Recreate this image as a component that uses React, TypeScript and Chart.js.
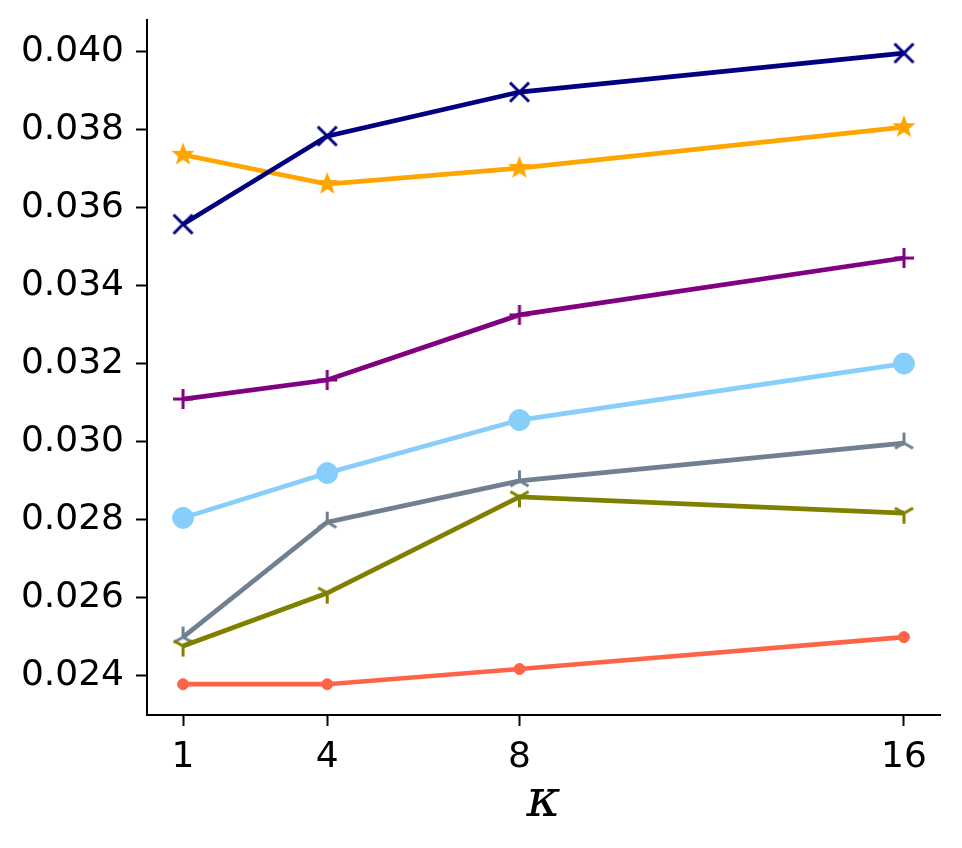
import React, { useEffect, useRef } from "react";
import { Chart, registerables } from "chart.js";

Chart.register(...registerables);

const kValues = [1, 4, 8, 16];
const xTicks = [1, 4, 8, 16];
const yTicks = [0.024, 0.026, 0.028, 0.030, 0.032, 0.034, 0.036, 0.038, 0.040];

const navySeries = [0.03558, 0.03784, 0.03897, 0.03997];
const orangeSeries = [0.03736, 0.03661, 0.03702, 0.03807];
const purpleSeries = [0.03109, 0.03158, 0.03325, 0.03471];
const skySeries = [0.02804, 0.02919, 0.03055, 0.03200];
const oliveSeries = [0.02475, 0.02611, 0.02858, 0.02816];
const graySeries = [0.02498, 0.02793, 0.02899, 0.02996];
const tomatoSeries = [0.02377, 0.02377, 0.02416, 0.02498];

type Kind = "x" | "plus" | "star" | "triUp" | "triDown";

function makeMarker(kind: Kind, color: string, r: number, lw: number): HTMLCanvasElement {
  const size = Math.ceil(2 * r + 2 * lw + 2);
  const c = document.createElement("canvas");
  c.width = size;
  c.height = size;
  const ctx = c.getContext("2d")!;
  const cx = size / 2;
  const cy = size / 2;
  ctx.strokeStyle = color;
  ctx.fillStyle = color;
  ctx.lineWidth = lw;
  ctx.lineCap = "butt";
  ctx.beginPath();
  if (kind === "x") {
    const d = r;
    ctx.moveTo(cx - d, cy - d);
    ctx.lineTo(cx + d, cy + d);
    ctx.moveTo(cx - d, cy + d);
    ctx.lineTo(cx + d, cy - d);
    ctx.stroke();
  } else if (kind === "plus") {
    ctx.moveTo(cx - r, cy);
    ctx.lineTo(cx + r, cy);
    ctx.moveTo(cx, cy - r);
    ctx.lineTo(cx, cy + r);
    ctx.stroke();
  } else if (kind === "star") {
    const inner = r * 0.42;
    for (let i = 0; i < 10; i++) {
      const rr = i % 2 === 0 ? r : inner;
      const a = -Math.PI / 2 + (i * Math.PI) / 5;
      const px = cx + rr * Math.cos(a);
      const py = cy + rr * Math.sin(a);
      if (i === 0) ctx.moveTo(px, py);
      else ctx.lineTo(px, py);
    }
    ctx.closePath();
    ctx.fill();
    ctx.lineWidth = 1.5;
    ctx.stroke();
  } else {
    const s = kind === "triUp" ? -1 : 1;
    ctx.moveTo(cx, cy);
    ctx.lineTo(cx, cy + s * r);
    ctx.moveTo(cx, cy);
    ctx.lineTo(cx - 0.866 * r, cy - s * 0.5 * r);
    ctx.moveTo(cx, cy);
    ctx.lineTo(cx + 0.866 * r, cy - s * 0.5 * r);
    ctx.stroke();
  }
  return c;
}

export default function App() {
  const ref = useRef<HTMLCanvasElement | null>(null);

  useEffect(() => {
    if (!ref.current) return;
    const toPts = (arr: number[]) => arr.map((y, i) => ({ x: kValues[i], y }));

    const mk = (
      label: string,
      data: number[],
      color: string,
      pointStyle: any,
      radius: number
    ) => ({
      label,
      data: toPts(data),
      borderColor: color,
      backgroundColor: color,
      borderWidth: 4.7,
      pointStyle,
      pointRadius: radius,
      pointBorderWidth: 1,
      pointBorderColor: color,
      pointBackgroundColor: color,
      tension: 0,
    });

    const chart = new Chart(ref.current, {
      type: "line",
      data: {
        datasets: [
          mk("navy", navySeries, "#000080", makeMarker("x", "#000080", 9.5, 3), 10),
          mk("orange", orangeSeries, "#FFA500", makeMarker("star", "#FFA500", 10, 2), 10),
          mk("purple", purpleSeries, "#800080", makeMarker("plus", "#800080", 10, 3), 10),
          mk("sky", skySeries, "#87CEFA", "circle", 10.5),
          mk("olive", oliveSeries, "#808000", makeMarker("triDown", "#808000", 10.5, 3), 10),
          mk("gray", graySeries, "#708090", makeMarker("triUp", "#708090", 10.5, 3), 10),
          mk("tomato", tomatoSeries, "#FF6347", "circle", 5.5),
        ],
      },
      options: {
        responsive: false,
        animation: false,
        layout: { padding: { left: 0, top: 20, right: 22, bottom: 0 } },
        plugins: {
          legend: { display: false },
          tooltip: { enabled: false },
        },
        scales: {
          x: {
            type: "linear",
            min: 0.25,
            max: 16.75,
            afterFit: (s: any) => {
              s.height = 133;
              s.paddingLeft = 0;
              s.paddingRight = 0;
              s.paddingTop = 0;
              s.paddingBottom = 0;
            },
            afterBuildTicks: (s: any) => {
              s.ticks = xTicks.map((v) => ({ value: v }));
            },
            grid: {
              display: true,
              drawOnChartArea: false,
              drawTicks: true,
              tickLength: 11,
              tickWidth: 2,
              tickColor: "#000",
            },
            border: { display: true, color: "#000", width: 2 },
            ticks: {
              color: "#000",
              font: { family: "DejaVu Sans", size: 36 },
              padding: 10,
              maxRotation: 0,
              autoSkip: false,
              callback: (v: any) => String(v),
            },
            title: {
              display: true,
              text: "κ",
              color: "#000",
              font: { family: "DejaVu Serif", size: 52, style: "italic" },
              padding: { top: 0, bottom: 14 },
            },
          },
          y: {
            type: "linear",
            min: 0.02298,
            max: 0.04082,
            afterFit: (s: any) => {
              s.width = 147;
              s.paddingLeft = 0;
              s.paddingRight = 0;
              s.paddingTop = 0;
              s.paddingBottom = 0;
            },
            afterBuildTicks: (s: any) => {
              s.ticks = yTicks.map((v) => ({ value: v }));
            },
            grid: {
              display: true,
              drawOnChartArea: false,
              drawTicks: true,
              tickLength: 11,
              tickWidth: 2,
              tickColor: "#000",
            },
            border: { display: true, color: "#000", width: 2 },
            ticks: {
              color: "#000",
              font: { family: "DejaVu Sans", size: 36 },
              padding: 12,
              autoSkip: false,
              callback: (v: any) => Number(v).toFixed(3),
            },
          },
        },
      },
    });
    return () => chart.destroy();
  }, []);

  return (
    <div style={{ position: "absolute", left: 0, top: 0, width: 962, height: 848, background: "#fff" }}>
      <canvas ref={ref} width={962} height={848} style={{ width: 962, height: 848 }} />
    </div>
  );
}
